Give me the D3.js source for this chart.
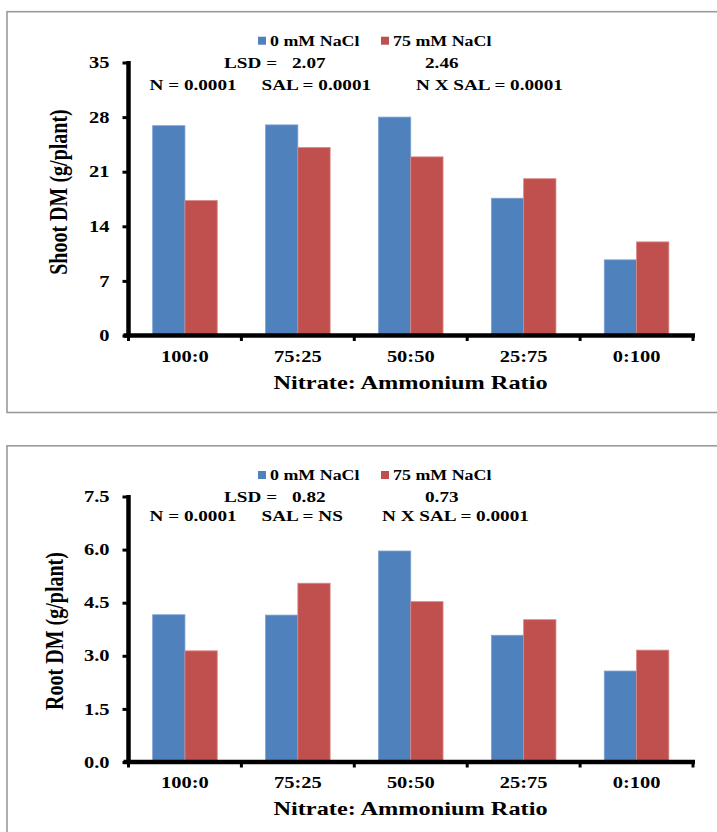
<!DOCTYPE html>
<html>
<head>
<meta charset="utf-8">
<script src="https://cdn.jsdelivr.net/npm/d3@7"></script>
<style>
  html, body { margin: 0; padding: 0; background: #fff; }
  svg { display: block; }
  text { font-family: "Liberation Serif", "Times New Roman", serif; font-weight: bold; fill: #000; }
</style>
</head>
<body>
<svg id="chart" width="717" height="832"></svg>
<script>
// ---------------- DATA ----------------
const categories = ["100:0", "75:25", "50:50", "25:75", "0:100"];
const seriesNames = ["0 mM NaCl", "75 mM NaCl"];

const shoot0 = [26.9, 27.0, 28.0, 17.6, 9.7];
const shoot75 = [17.3, 24.1, 22.9, 20.1, 12.0];
const shootTicks = [0, 7, 14, 21, 28, 35];

const root0 = [4.16, 4.15, 5.96, 3.58, 2.57];
const root75 = [3.14, 5.05, 4.53, 4.02, 3.16];
const rootTicks = [0, 1.5, 3.0, 4.5, 6.0, 7.5];

const shootLSD = ["LSD =", "2.07", "2.46"];
const shootStats = ["N = 0.0001", "SAL  = 0.0001", "N X SAL = 0.0001"];
const rootLSD = ["LSD =", "0.82", "0.73"];
const rootStats = ["N = 0.0001", "SAL  = NS", "N X SAL = 0.0001"];

const xTitle = "Nitrate: Ammonium Ratio";
const shootTitle = "Shoot DM (g/plant)";
const rootTitle = "Root DM (g/plant)";

// ---------------- STYLE ----------------
const colors = ["#4F81BD", "#C0504D"];
const strokes = ["#7FA2D2", "#D98784"];
const SX = 1.28; // horizontal stretch of the text in the reference

const svg = d3.select("#chart");

function stretchedText(g, x, y, str, size, anchor) {
  return g.append("text")
    .attr("transform", `translate(${x},${y}) scale(${SX},1)`)
    .attr("text-anchor", anchor || "start")
    .style("font-size", size + "px")
    .text(str);
}

function drawPanel(cfg) {
  // panel frame
  svg.append("rect")
    .attr("x", 7).attr("y", cfg.frameTop)
    .attr("width", 760).attr("height", cfg.frameH)
    .attr("fill", "none").attr("stroke", "#9a9a9a").attr("stroke-width", 1.6);

  const g = svg.append("g");

  const x = d3.scaleBand().domain(categories).range([128.5, 693]).padding(0);
  const groupW = x.bandwidth() * 0.572;
  const xs = d3.scaleBand().domain([0, 1])
    .range([(x.bandwidth() - groupW) / 2, (x.bandwidth() + groupW) / 2]).padding(0);
  const y = d3.scaleLinear().domain([0, d3.max(cfg.ticks)]).range([cfg.y0, cfg.yTop]);

  // bars
  const data = categories.map((c, i) => ({ c, vals: [cfg.s0[i], cfg.s75[i]] }));
  const grp = g.selectAll("g.cat").data(data).join("g")
    .attr("class", "cat")
    .attr("transform", d => `translate(${x(d.c)},0)`);
  grp.selectAll("rect").data(d => d.vals.map((v, k) => ({ v, k }))).join("rect")
    .attr("x", d => xs(d.k))
    .attr("width", xs.bandwidth())
    .attr("y", d => y(d.v))
    .attr("height", d => y(0) - y(d.v))
    .attr("fill", d => colors[d.k])
    .attr("stroke", d => strokes[d.k])
    .attr("stroke-width", 0.8);

  // y axis
  const yAxis = d3.axisLeft(y).tickValues(cfg.ticks).tickSize(6).tickSizeOuter(0)
    .tickPadding(8.8).tickFormat(cfg.fmt);
  const ya = g.append("g").attr("transform", `translate(${x.range()[0]},0)`).call(yAxis);
  ya.select(".domain").attr("stroke", "#000").attr("stroke-width", 4.5)
    .attr("d", `M0,${y.range()[1] - 1.5}V${y.range()[0] + 2}`);
  ya.selectAll(".tick line").attr("stroke", "#000").attr("stroke-width", 3);
  ya.selectAll(".tick text")
    .attr("transform", `scale(${SX},1)`)
    .style("font-size", "16px")
    .style("font-family", "'Liberation Serif','Times New Roman',serif")
    .style("font-weight", "bold");

  // x axis
  const xAxis = d3.axisBottom(x).tickSize(0).tickSizeOuter(0).tickPadding(15);
  const xa = g.append("g").attr("transform", `translate(0,${cfg.y0})`).call(xAxis);
  xa.select(".domain").attr("stroke", "#000").attr("stroke-width", 4.5)
    .attr("d", `M${x.range()[0] - 5},0H${x.range()[1] + 2}`);
  xa.selectAll(".tick text")
    .attr("transform", `scale(${SX},1)`)
    .style("font-size", "16px")
    .style("font-family", "'Liberation Serif','Times New Roman',serif")
    .style("font-weight", "bold");
  const bounds = categories.map(c => x(c)).concat([x.range()[1]]);
  xa.selectAll("line.bound").data(bounds).join("line")
    .attr("class", "bound")
    .attr("x1", d => d).attr("x2", d => d)
    .attr("y1", 0).attr("y2", 5.5)
    .attr("stroke", "#000").attr("stroke-width", 3);

  // axis titles
  stretchedText(g, 410.5, cfg.y0 + 53, xTitle, 19, "middle");
  g.append("text")
    .attr("transform", `translate(${cfg.yTitleX},${cfg.yTitleY}) scale(${SX},1) rotate(-90)`)
    .attr("text-anchor", "middle")
    .style("font-size", "20px")
    .text(cfg.yTitle);

  // legend
  const legX = [258, 381];
  seriesNames.forEach((n, k) => {
    g.append("rect")
      .attr("x", legX[k]).attr("y", cfg.legY - 4)
      .attr("width", 8).attr("height", 8)
      .attr("fill", colors[k]);
    stretchedText(g, legX[k] + 12, cfg.legY + 4.8, n, 14, "start");
  });

  // stats text
  const lsdX = [224, 292, 425];
  cfg.lsd.forEach((t, i) => stretchedText(g, lsdX[i], cfg.lsdY, t, 15, "start"));
  cfg.stats.forEach((t, i) => stretchedText(g, cfg.statX[i], cfg.statY, t, 15, "start"));
}

drawPanel({
  frameTop: 11.7, frameH: 400.8,
  y0: 335.5, yTop: 62.5,
  ticks: shootTicks, fmt: d3.format("d"),
  s0: shoot0, s75: shoot75,
  yTitle: shootTitle, yTitleX: 67, yTitleY: 192,
  legY: 40.7, lsdY: 68.3, statY: 90,
  lsd: shootLSD, stats: shootStats, statX: [149.5, 261.5, 416]
});

drawPanel({
  frameTop: 445.8, frameH: 420,
  y0: 762, yTop: 496.5,
  ticks: rootTicks, fmt: d3.format(".1f"),
  s0: root0, s75: root75,
  yTitle: rootTitle, yTitleX: 63, yTitleY: 631,
  legY: 475, lsdY: 501.5, statY: 521,
  lsd: rootLSD, stats: rootStats, statX: [149.5, 261.5, 382]
});
</script>
</body>
</html>
